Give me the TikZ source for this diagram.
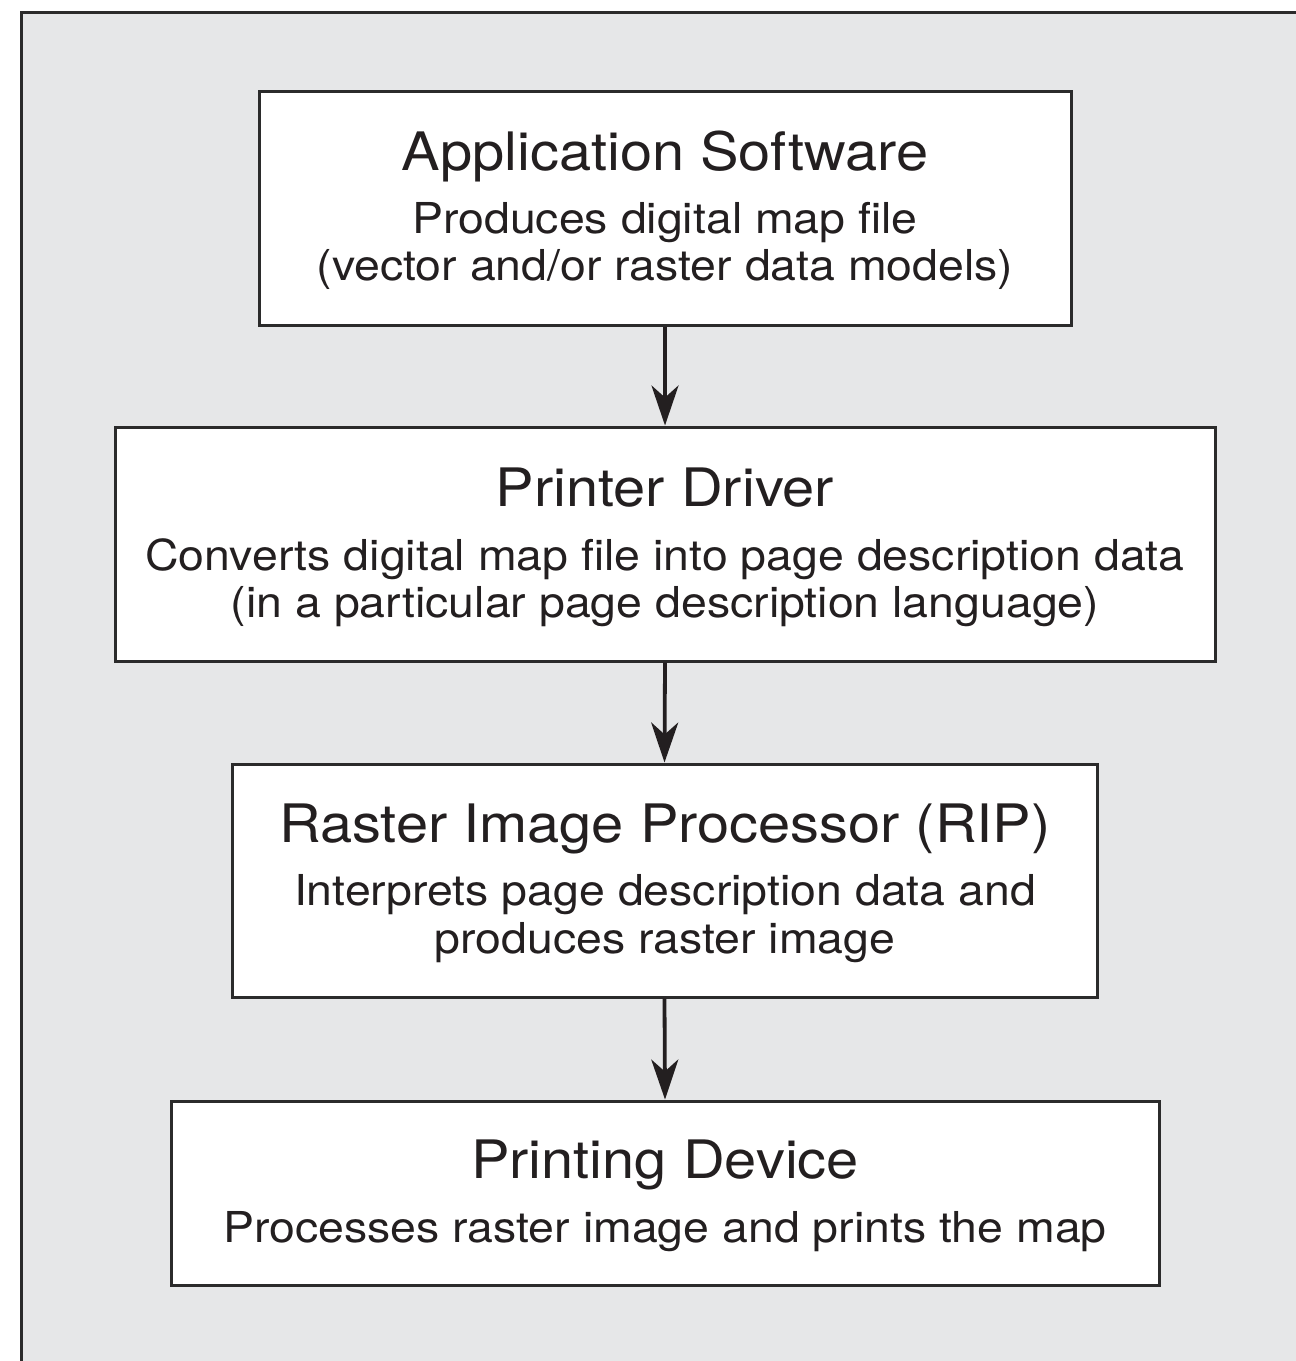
\documentclass[tikz,border=0pt]{standalone}
\usepackage{fontspec}
\setmainfont{TeX Gyre Heros}[FakeStretch=1.09]
\usetikzlibrary{arrows.meta}
\definecolor{bggray}{HTML}{E6E7E8}
\definecolor{ink}{HTML}{231F20}
\definecolor{edge}{HTML}{2B2B2B}
\tikzset{
  box/.style={draw=edge, line width=3pt, fill=white, inner sep=0pt},
  ttl/.style={anchor=base, inner sep=0pt, text=ink, font=\fontsize{53}{60}\selectfont},
  sub/.style={anchor=base, inner sep=0pt, text=ink, font=\fontsize{42.6}{50}\selectfont},
  flow/.style={draw=ink, line width=3.8pt, -{Stealth[length=40pt,width=27pt,inset=12pt]}, shorten >=0pt}
}
\begin{document}
\begin{tikzpicture}[x=1pt,y=-1pt]
\useasboundingbox (0,0) rectangle (1296,1361);
\fill[bggray] (21,12) rectangle (1300,1365);
\draw[edge, line width=3pt] (21,1365) -- (21,12) -- (1300,12);

% boxes
\node[box, minimum width=812, minimum height=234] (b1) at (665,208) {};
\node[box, minimum width=1100, minimum height=234] (b2) at (665,544) {};
\node[box, minimum width=865, minimum height=233] (b3) at (664.5,880.5) {};
\node[box, minimum width=988, minimum height=184] (b4) at (665,1193) {};

% texts
\node[ttl] (t1) at (665,170) {Application Software};
\node[sub] (s1a) at (665,233) {Produces digital map file};
\node[sub] (s1b) at (665,280) {(vector and/or raster data models)};

\node[ttl] (t2) at (665,506) {Printer Driver};
\node[sub] (s2a) at (665,570) {Converts digital map file into page description data};
\node[sub] (s2b) at (665,617) {(in a particular page description language)};

\node[ttl] (t3) at (665,842) {Raster Image Processor (RIP)};
\node[sub] (s3a) at (665,905) {Interprets page description data and};
\node[sub] (s3b) at (665,953) {produces raster image};

\node[ttl] (t4) at (665,1178) {Printing Device};
\node[sub] (s4a) at (665,1242) {Processes raster image and prints the map};

% arrows
\draw[flow] (b1.south) -- (b2.north);
\draw[flow] (b2.south) -- (b3.north);
\draw[flow] (b3.south) -- (b4.north);
\end{tikzpicture}
\end{document}
